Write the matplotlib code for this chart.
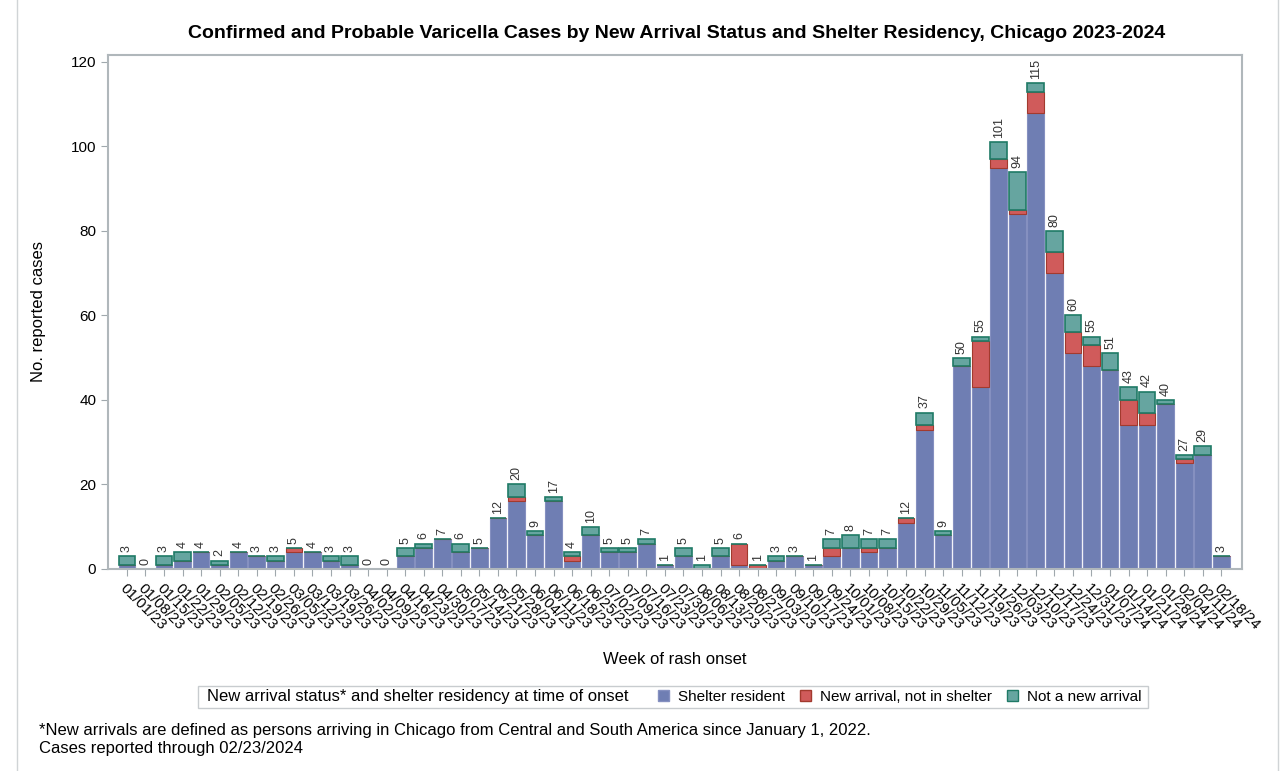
import matplotlib.pyplot as plt
import numpy as np
from matplotlib.patches import Patch, Rectangle
from matplotlib.lines import Line2D

plt.rcParams['font.family'] = ['Liberation Sans', 'DejaVu Sans']

weeks = ['01/01/23', '01/08/23', '01/15/23', '01/22/23', '01/29/23', '02/05/23', '02/12/23',
         '02/19/23', '02/26/23', '03/05/23', '03/12/23', '03/19/23', '03/26/23', '04/02/23',
         '04/09/23', '04/16/23', '04/23/23', '04/30/23', '05/07/23', '05/14/23', '05/21/23',
         '05/28/23', '06/04/23', '06/11/23', '06/18/23', '06/25/23', '07/02/23', '07/09/23',
         '07/16/23', '07/23/23', '07/30/23', '08/06/23', '08/13/23', '08/20/23', '08/27/23',
         '09/03/23', '09/10/23', '09/17/23', '09/24/23', '10/01/23', '10/08/23', '10/15/23',
         '10/22/23', '10/29/23', '11/05/23', '11/12/23', '11/19/23', '11/26/23', '12/03/23',
         '12/10/23', '12/17/23', '12/24/23', '12/31/23', '01/07/24', '01/14/24', '01/21/24',
         '01/28/24', '02/04/24', '02/11/24', '02/18/24']

# shelter resident
shelter = [1, 0, 1, 2, 4, 1, 4, 3, 2, 4, 4, 2, 1, 0, 0, 3, 5, 7, 4, 5, 12,
           16, 8, 16, 2, 8, 4, 4, 6, 1, 3, 0, 3, 1, 0, 2, 3, 1, 3, 5, 4, 5,
           11, 33, 8, 48, 43, 95, 84, 108, 70, 51, 48, 47, 34, 34, 39, 25, 27, 3]
# new arrival, not in shelter
new_arrival = [0, 0, 0, 0, 0, 0, 0, 0, 0, 1, 0, 0, 0, 0, 0, 0, 0, 0, 0, 0, 0,
               1, 0, 0, 1, 0, 0, 0, 0, 0, 0, 0, 0, 5, 1, 0, 0, 0, 2, 0, 1, 0,
               1, 1, 0, 0, 11, 2, 1, 5, 5, 5, 5, 0, 6, 3, 0, 1, 0, 0]
# not a new arrival
not_new = [2, 0, 2, 2, 0, 1, 0, 0, 1, 0, 0, 1, 2, 0, 0, 2, 1, 0, 2, 0, 0,
           3, 1, 1, 1, 2, 1, 1, 1, 0, 2, 1, 2, 0, 0, 1, 0, 0, 2, 3, 2, 2,
           0, 3, 1, 2, 1, 4, 9, 2, 5, 4, 2, 4, 3, 5, 1, 1, 2, 0]

shelter = np.array(shelter)
new_arrival = np.array(new_arrival)
not_new = np.array(not_new)
total = shelter + new_arrival + not_new
x = np.arange(len(weeks))

fig = plt.figure(figsize=(12.86, 7.71), dpi=100)
ax = fig.add_axes([0.084, 0.262, 0.882, 0.667])

w = 0.9
ax.bar(x, shelter, w, color='#6F7EB3', edgecolor='#8590C0', linewidth=0.8)
ax.bar(x, new_arrival, w, bottom=shelter, color='#D05B5B', edgecolor='#A23A2E', linewidth=0.8)
ax.bar(x, not_new, w, bottom=shelter + new_arrival, color='#66A5A0', edgecolor='#1F7A66', linewidth=1.2)

for xi, t in zip(x, total):
    ax.annotate(str(t), (xi, t), xytext=(0, 3), textcoords='offset points',
                rotation=90, ha='center', va='bottom', fontsize=9, color='#333333')

ax.set_xlim(-1.02, len(weeks) - 1 + 1.13)
ax.set_ylim(0, 121.7)
ax.set_yticks(range(0, 121, 20))
ax.set_xticks(x)
ax.set_xticklabels(weeks, rotation=-45, ha='left', va='top', rotation_mode='anchor', fontsize=10.8)
ax.tick_params(axis='y', labelsize=11, color='#A0A8AD', length=5)
ax.tick_params(axis='x', color='#A0A8AD', length=5, pad=4)
for s in ax.spines.values():
    s.set_color('#B0B7BB')
    s.set_linewidth(1.5)

ax.set_ylabel('No. reported cases', fontsize=12)
ax.yaxis.set_label_coords(-0.055, 0.5)
fig.text(0.525, 0.144, 'Week of rash onset', ha='center', va='center', fontsize=12)
fig.text(0.526, 0.957, 'Confirmed and Probable Varicella Cases by New Arrival Status and Shelter Residency, Chicago 2023-2024',
         ha='center', va='center', fontsize=14, fontweight='bold')

# legend box drawn by hand so the title sits on the left
fig.add_artist(Rectangle((0.154, 0.082), 0.739, 0.0285, transform=fig.transFigure,
                         facecolor='white', edgecolor='#C8CCCF', linewidth=1.0))
fig.text(0.1610, 0.0965, 'New arrival status* and shelter residency at time of onset',
         ha='left', va='center', fontsize=12)
handles = [Patch(facecolor='#6F7EB3', edgecolor='#8590C0'),
           Patch(facecolor='#D05B5B', edgecolor='#A23A2E'),
           Patch(facecolor='#66A5A0', edgecolor='#1F7A66')]
labels = ['Shelter resident', 'New arrival, not in shelter', 'Not a new arrival']
fig.legend(handles, labels, loc='center left', bbox_to_anchor=(0.5117, 0.0965), ncol=3,
           fontsize=11, frameon=False, handlelength=0.7, handleheight=0.7,
           handletextpad=0.6, columnspacing=1.0, borderpad=0.0, borderaxespad=0.0)

fig.text(0.03, 0.053, '*New arrivals are defined as persons arriving in Chicago from Central and South America since January 1, 2022.',
         ha='left', va='center', fontsize=12)
fig.text(0.03, 0.029, 'Cases reported through 02/23/2024', ha='left', va='center', fontsize=12)

fig.add_artist(Line2D([0.013, 0.013], [0, 1], color='#D0D4D6', lw=1.0))
fig.add_artist(Line2D([0.994, 0.994], [0, 1], color='#D0D4D6', lw=1.0))

fig.savefig('out.png', dpi=100)
